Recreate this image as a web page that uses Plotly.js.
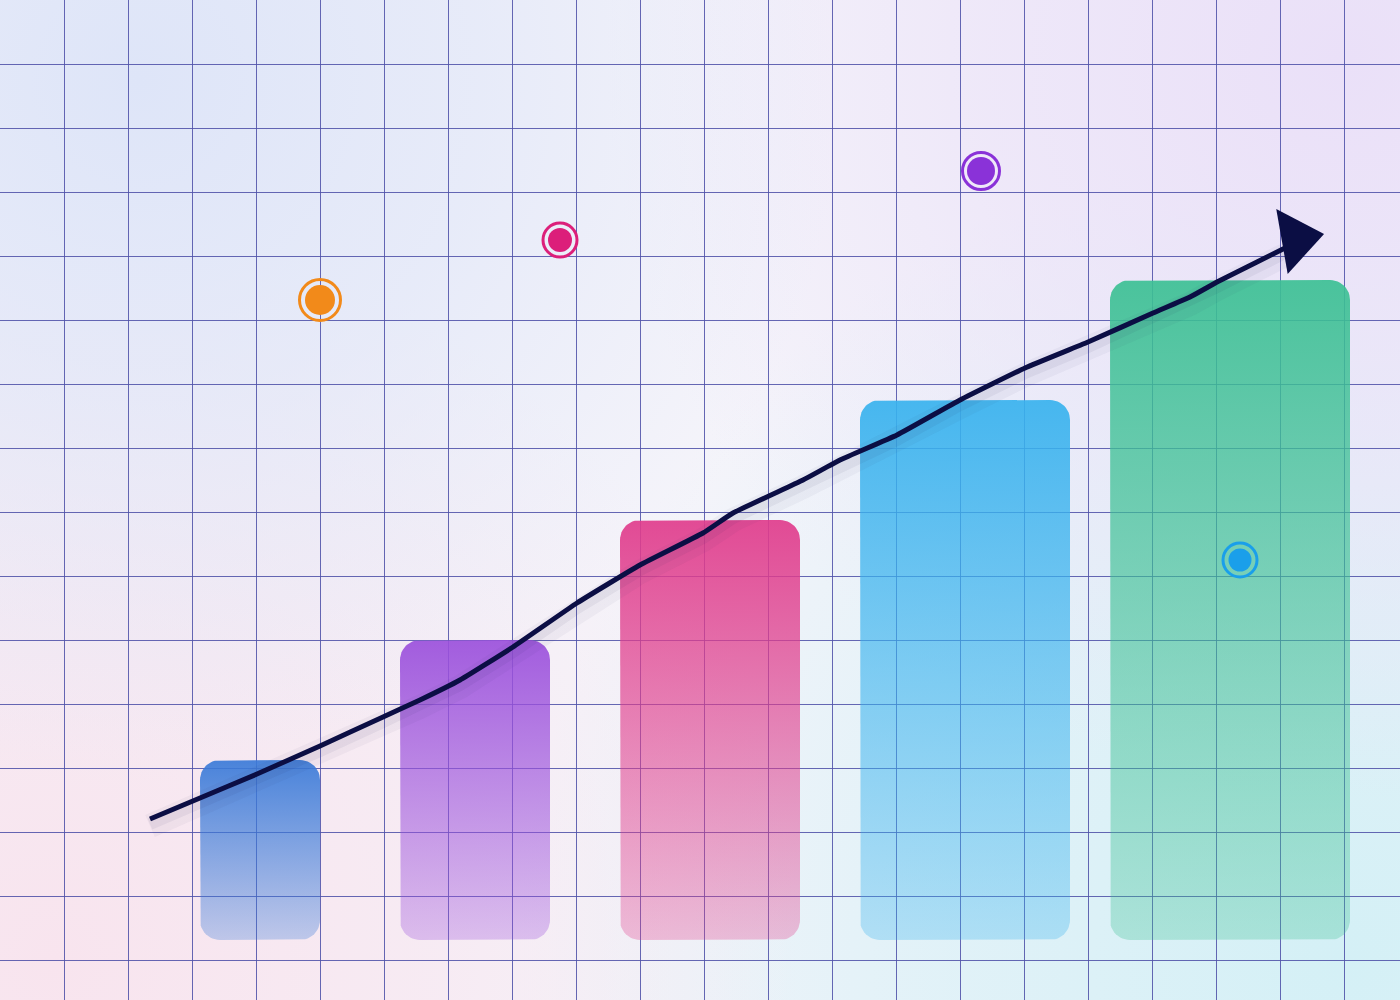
<!DOCTYPE html>
<html>
<head>
<meta charset="utf-8">
<script src="https://cdn.plot.ly/plotly-3.0.1.min.js"></script>
<style>
html,body{margin:0;padding:0;width:1400px;height:1000px;overflow:hidden;}
body{
  background:
    radial-gradient(circle at 10% 8%, rgba(222,229,248,1) 0%, rgba(222,229,248,0.6) 22%, rgba(222,229,248,0) 45%),
    radial-gradient(circle at 96% 6%, rgba(234,224,248,1) 0%, rgba(234,224,248,0.6) 22%, rgba(234,224,248,0) 45%),
    radial-gradient(circle at 4% 96%, rgba(248,228,238,1) 0%, rgba(248,228,238,0.6) 22%, rgba(248,228,238,0) 45%),
    radial-gradient(circle at 96% 96%, rgba(212,240,246,1) 0%, rgba(212,240,246,0.6) 25%, rgba(212,240,246,0) 50%),
    #f5f4fa;
}
#chart{width:1400px;height:1000px;}
</style>
</head>
<body>
<div id="chart"></div>
<script>
// ---- data (x in plot units 0..1400, y in plot units 0..1000) ----
const barCenters = [260, 475, 710, 965, 1230];
const barWidths  = [120, 150, 180, 210, 240];
const barBase    = 60;
const barValues  = [240, 360, 480, 600, 720];
const barColors  = ['58,122,216', '155,80,220', '224,60,140', '56,178,238', '60,192,148'];

const lineX = [150, 200, 257, 320, 383, 420, 460, 513, 577, 640, 703, 733, 803, 840, 897, 960, 1025, 1088, 1153, 1190, 1217, 1257, 1285];
const lineY = [181, 202, 226, 254, 283, 300, 320, 353, 397, 435, 467, 487, 520, 540, 565, 600, 632, 658, 687, 703, 718, 738, 752];

const arrowX = [1296];
const arrowY = [761];
const arrowAngle = [80];

const dotX = [320, 560, 981, 1240];
const dotY = [700, 760, 829, 440];
const dotColors = ['#f28a1a', '#dc1f7a', '#8a32d8', '#1a9fea'];
const dotSizes  = [30, 24, 28, 23];
const ringSizes = [41, 34, 37, 34];

// ---- helpers ----
function roundedRect(cx, w, y0, y1, r) {
  const xl = cx - w / 2, xr = cx + w / 2;
  const xs = [], ys = [];
  const N = 12;
  const corners = [
    [xr - r, y1 - r, 0, Math.PI / 2],
    [xl + r, y1 - r, Math.PI / 2, Math.PI],
    [xl + r, y0 + r, Math.PI, 1.5 * Math.PI],
    [xr - r, y0 + r, 1.5 * Math.PI, 2 * Math.PI]
  ];
  corners.forEach(([ccx, ccy, a0, a1]) => {
    for (let i = 0; i <= N; i++) {
      const a = a0 + (a1 - a0) * i / N;
      xs.push(ccx + r * Math.cos(a));
      ys.push(ccy + r * Math.sin(a));
    }
  });
  xs.push(xs[0]); ys.push(ys[0]);
  return {xs, ys};
}

const traces = [];

barCenters.forEach((cx, i) => {
  const rr = roundedRect(cx, barWidths[i], barBase, barValues[i], 20);
  traces.push({
    type: 'scatter', mode: 'lines', x: rr.xs, y: rr.ys,
    fill: 'toself',
    line: {width: 0, color: 'rgba(0,0,0,0)'},
    fillgradient: {
      type: 'vertical',
      start: barBase, stop: barValues[i],
      colorscale: [[0, 'rgba(' + barColors[i] + ',0.30)'], [1, 'rgba(' + barColors[i] + ',0.92)']]
    },
    hoverinfo: 'skip'
  });
});

// soft shadow under the trend line
traces.push({type: 'scatter', mode: 'lines', x: lineX, y: lineY.map(v => v - 7),
  line: {color: 'rgba(40,40,90,0.045)', width: 24}, hoverinfo: 'skip'});
traces.push({type: 'scatter', mode: 'lines', x: lineX, y: lineY.map(v => v - 5),
  line: {color: 'rgba(40,40,90,0.06)', width: 12}, hoverinfo: 'skip'});

// trend line
traces.push({type: 'scatter', mode: 'lines', x: lineX, y: lineY,
  line: {color: '#0b0e44', width: 5, shape: 'spline', smoothing: 0.4}, hoverinfo: 'skip'});

// arrow head
traces.push({type: 'scatter', mode: 'markers', x: arrowX, y: arrowY,
  marker: {symbol: 'triangle-up', size: 57, angle: arrowAngle, color: '#0b0e44', opacity: 1, line: {width: 0}},
  hoverinfo: 'skip'});

// ring markers
traces.push({type: 'scatter', mode: 'markers', x: dotX, y: dotY,
  marker: {symbol: 'circle-open', size: ringSizes, color: dotColors, opacity: 1, line: {width: 3, color: dotColors}},
  hoverinfo: 'skip'});
// inner dots
traces.push({type: 'scatter', mode: 'markers', x: dotX, y: dotY,
  marker: {symbol: 'circle', size: dotSizes, color: dotColors, opacity: 1, line: {width: 0}},
  hoverinfo: 'skip'});

const gridCol = 'rgba(80,82,168,0.88)';
const layout = {
  width: 1400, height: 1000,
  margin: {l: 0, r: 0, t: 0, b: 0, pad: 0},
  paper_bgcolor: 'rgba(0,0,0,0)',
  plot_bgcolor: 'rgba(0,0,0,0)',
  showlegend: false,
  hovermode: false,
  xaxis: {range: [0, 1400], tick0: 0, dtick: 64, showgrid: true, gridcolor: gridCol, gridwidth: 1,
          zeroline: false, showticklabels: false, ticks: '', showline: true, linecolor: gridCol, linewidth: 1,
          side: 'top', fixedrange: true},
  yaxis: {range: [0, 1000], tick0: 40, dtick: 64, showgrid: true, gridcolor: gridCol, gridwidth: 1,
          zeroline: false, showticklabels: false, ticks: '', showline: true, linecolor: gridCol, linewidth: 1,
          side: 'left', fixedrange: true}
};

Plotly.newPlot('chart', traces, layout, {staticPlot: true, displayModeBar: false});
</script>
</body>
</html>
